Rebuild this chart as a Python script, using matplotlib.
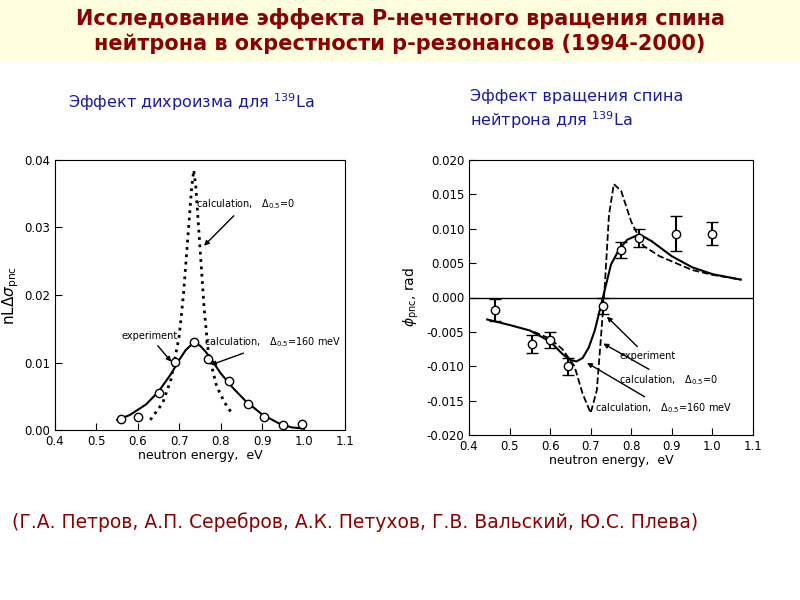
import matplotlib.pyplot as plt
from matplotlib.patches import Rectangle

# left panel: dichroism
exp_e_left = [0.56, 0.60, 0.65, 0.69, 0.735, 0.77, 0.82, 0.865, 0.905, 0.95, 0.995]
exp_v_left = [0.0016, 0.002, 0.0055, 0.0101, 0.013, 0.0105, 0.0072, 0.0038, 0.0019, 0.0007, 0.0009]
calc160_e_left = [0.55, 0.58, 0.62, 0.65, 0.68, 0.70, 0.715, 0.73, 0.74, 0.75, 0.765, 0.78, 0.80, 0.83, 0.86, 0.90, 0.94, 0.97, 1.0]
calc160_v_left = [0.0015, 0.0022, 0.0038, 0.0057, 0.0083, 0.0104, 0.0118, 0.0127, 0.0128, 0.0125, 0.0115, 0.0102, 0.0084, 0.0062, 0.0043, 0.0023, 0.0010, 0.0004, 0.0002]
calc0_e_left = [0.63, 0.66, 0.68, 0.70, 0.71, 0.72, 0.73, 0.735, 0.74, 0.75, 0.76, 0.77, 0.79, 0.81, 0.83]
calc0_v_left = [0.0015, 0.004, 0.0075, 0.014, 0.020, 0.028, 0.036, 0.0385, 0.036, 0.027, 0.018, 0.0115, 0.0065, 0.004, 0.0022]

# right panel: spin rotation
exp_e_right = [0.465, 0.555, 0.60, 0.645, 0.73, 0.775, 0.82, 0.91, 1.0]
exp_v_right = [-0.0018, -0.0068, -0.0062, -0.0100, -0.0012, 0.0069, 0.0087, 0.0093, 0.0093]
exp_err_right = [0.0016, 0.0013, 0.0012, 0.0012, 0.0012, 0.0012, 0.0013, 0.0025, 0.0017]
calc160_e_right = [0.445, 0.5, 0.55, 0.6, 0.63, 0.65, 0.665, 0.68, 0.695, 0.71, 0.73, 0.75, 0.77, 0.79, 0.82, 0.85, 0.9, 0.95, 1.0, 1.07]
calc160_v_right = [-0.0032, -0.0040, -0.0048, -0.0064, -0.0082, -0.0091, -0.0093, -0.0088, -0.0073, -0.0048, 0.0, 0.0048, 0.0070, 0.0084, 0.0092, 0.0082, 0.0060, 0.0044, 0.0034, 0.0026]
calc0_e_right = [0.56, 0.6, 0.63, 0.66, 0.68, 0.70, 0.715, 0.725, 0.735, 0.745, 0.757, 0.775, 0.80, 0.83, 0.87, 0.95, 1.0, 1.07]
calc0_v_right = [-0.0050, -0.0060, -0.0075, -0.0100, -0.0140, -0.0168, -0.0135, -0.0060, 0.0020, 0.0120, 0.0165, 0.0155, 0.0110, 0.0075, 0.0060, 0.0040, 0.0033, 0.0026]

red = '#8b0000'
blue = '#1a1aa0'
fig = plt.figure(figsize=(8, 6), dpi=100)
fig.patches.append(Rectangle((0, 1 - 62 / 600), 1, 62 / 600, transform=fig.transFigure,
                             facecolor='#ffffe0', edgecolor='none', zorder=0))
fig.text(0.5, 0.948, 'Исследование эффекта P-нечетного вращения спина\nнейтрона в окрестности p-резонансов (1994-2000)',
         ha='center', va='center', fontsize=15, color=red, fontweight='bold', linespacing=1.3)
fig.text(0.085, 0.82, 'Эффект дихроизма для $^{139}$La', fontsize=11.5, color=blue)
fig.text(0.588, 0.79, 'Эффект вращения спина\nнейтрона для $^{139}$La', fontsize=11.5, color=blue, linespacing=1.3)
fig.text(0.015, 0.12, '(Г.А. Петров, А.П. Серебров, А.К. Петухов, Г.В. Вальский, Ю.С. Плева)',
         fontsize=13.5, color=red)

ax1 = fig.add_axes([55 / 800, 1 - 430 / 600, 290 / 800, 270 / 600])
ax1.plot(calc160_e_left, calc160_v_left, 'k-', lw=1.5)
ax1.plot(calc0_e_left, calc0_v_left, 'k:', lw=2)
ax1.plot(exp_e_left, exp_v_left, 'ko', mfc='white', ms=6, mew=1)
ax1.set_xlim(0.4, 1.1)
ax1.set_ylim(0, 0.04)
ax1.set_xticks([0.4, 0.5, 0.6, 0.7, 0.8, 0.9, 1.0, 1.1])
ax1.set_yticks([0.0, 0.01, 0.02, 0.03, 0.04])
ax1.set_yticklabels(['0.00', '0.01', '0.02', '0.03', '0.04'])
ax1.set_ylabel(r'nL$\Delta\sigma_{\rm pnc}$', fontsize=11, labelpad=2)
ax1.set_xlabel('neutron energy,  eV', fontsize=9, labelpad=1)
ax1.tick_params(labelsize=8.5, direction='in', length=5)
ax1.annotate('calculation,   $\\Delta_{0.5}$=0', xy=(0.755, 0.027), xytext=(0.74, 0.033),
             fontsize=7, arrowprops=dict(arrowstyle='-|>', color='k'))
ax1.annotate('experiment', xy=(0.685, 0.0098), xytext=(0.56, 0.0135),
             fontsize=7, arrowprops=dict(arrowstyle='-|>', color='k'))
ax1.annotate('calculation,   $\\Delta_{0.5}$=160 meV', xy=(0.77, 0.0095), xytext=(0.76, 0.0125),
             fontsize=7, arrowprops=dict(arrowstyle='-|>', color='k'))

ax2 = fig.add_axes([469 / 800, 1 - 435 / 600, 284 / 800, 275 / 600])
ax2.axhline(0, color='k', lw=1)
ax2.plot(calc160_e_right, calc160_v_right, 'k-', lw=1.5)
ax2.plot(calc0_e_right, calc0_v_right, 'k--', lw=1.3)
ax2.errorbar(exp_e_right, exp_v_right, yerr=exp_err_right, fmt='o', color='k', mfc='white',
             ms=6, capsize=4, elinewidth=1.5)
ax2.set_xlim(0.4, 1.1)
ax2.set_ylim(-0.02, 0.02)
ax2.set_xticks([0.4, 0.5, 0.6, 0.7, 0.8, 0.9, 1.0, 1.1])
ax2.set_yticks([-0.02, -0.015, -0.01, -0.005, 0, 0.005, 0.01, 0.015, 0.02])
ax2.set_yticklabels(['-0.020', '-0.015', '-0.010', '-0.005', '0.000', '0.005', '0.010', '0.015', '0.020'])
ax2.set_ylabel(r'$\phi_{\rm pnc}$, rad', fontsize=10)
ax2.set_xlabel('neutron energy,  eV', fontsize=9, labelpad=1)
ax2.tick_params(labelsize=8.5, direction='in', length=5)
ax2.annotate('experiment', xy=(0.735, -0.0025), xytext=(0.77, -0.009),
             fontsize=7, arrowprops=dict(arrowstyle='-|>', color='k'))
ax2.annotate('calculation,   $\\Delta_{0.5}$=0', xy=(0.725, -0.0065), xytext=(0.77, -0.0125),
             fontsize=7, arrowprops=dict(arrowstyle='-|>', color='k'))
ax2.annotate('calculation,   $\\Delta_{0.5}$=160 meV', xy=(0.685, -0.0093), xytext=(0.71, -0.0165),
             fontsize=7, arrowprops=dict(arrowstyle='-|>', color='k'))

plt.savefig('out.png')
plt.close()
